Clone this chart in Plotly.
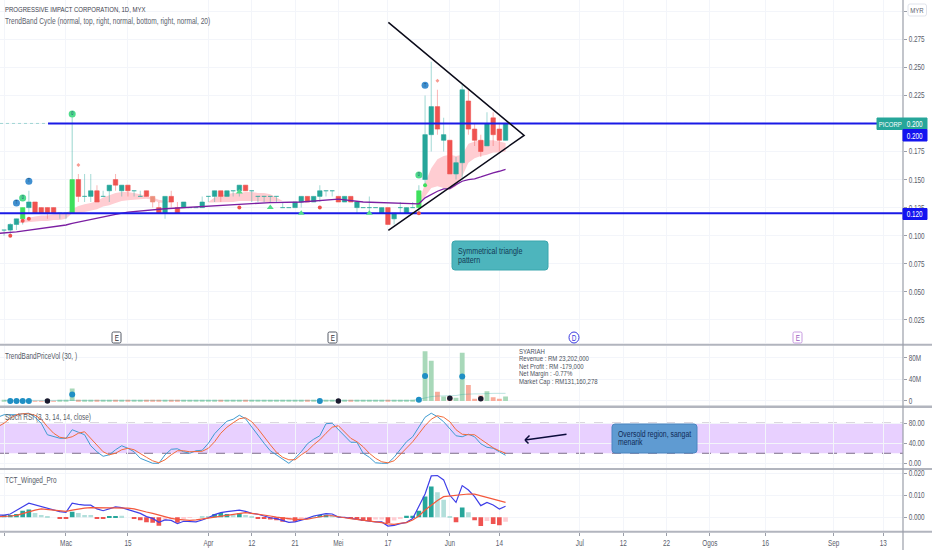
import plotly.graph_objects as go

FONT = "Liberation Sans, sans-serif"
TEAL, RED, GREEN, SALMON = "#26a69a", "#ef5350", "#3ee05c", "#ec8f7c"

# ---------- bar numbering / time axis ----------
tick_index = [-10, 0, 10, 23, 30, 37, 44, 52, 62, 70, 83, 90, 97, 104, 113, 124, 132]
tick_labels = ["15", "Mac", "15", "Apr", "12", "21", "Mei", "17", "Jun", "14", "Jul", "12", "22", "Ogos", "16", "Sep", "13"]

# ---------- candles (bar -10 .. 71), ten per row ----------
candle_index = list(range(-10, 72))
opens = [.105,.105,.110,.115,.125,.130,.125,.125,.125,.120,
         .120,.120,.150,.135,.135,.140,.135,.140,.150,.140,
         .145,.140,.135,.140,.135,.125,.120,.135,.125,.125,
         .125,.125,.125,.135,.135,.140,.135,.140,.140,.145,
         .140,.135,.135,.135,.135,.125,.125,.125,.130,.135,
         .130,.135,.140,.140,.135,.130,.135,.125,.125,.125,
         .125,.120,.125,.115,.125,.120,.125,.125,.150,.190,
         .215,.185,.185,.155,.165,.220,.195,.185,.180,.205,.195,.185]
highs = [.105,.111,.115,.125,.140,.130,.125,.125,.125,.120,
         .120,.210,.155,.155,.155,.145,.140,.145,.155,.145,
         .145,.140,.140,.140,.135,.130,.135,.140,.130,.130,
         .125,.125,.135,.135,.140,.140,.140,.140,.145,.145,
         .140,.135,.135,.135,.135,.130,.125,.130,.135,.135,
         .135,.145,.140,.140,.135,.135,.135,.130,.125,.135,
         .125,.125,.125,.120,.130,.125,.130,.145,.225,.255,
         .230,.205,.185,.170,.235,.230,.200,.190,.210,.210,.200,.200]
lows = [.100,.100,.105,.110,.120,.120,.120,.115,.120,.115,
        .115,.120,.130,.130,.130,.130,.135,.130,.140,.135,
        .135,.135,.135,.135,.125,.120,.115,.125,.120,.125,
        .125,.125,.125,.130,.130,.130,.135,.135,.135,.140,
        .130,.130,.130,.130,.130,.125,.125,.125,.125,.130,
        .130,.130,.135,.135,.130,.130,.130,.120,.125,.120,
        .125,.120,.110,.110,.120,.120,.125,.120,.145,.175,
        .190,.175,.155,.150,.150,.190,.180,.170,.180,.180,.175,.185]
closes = [.105,.110,.115,.125,.130,.120,.120,.120,.120,.120,
          .120,.150,.135,.135,.140,.130,.135,.145,.145,.145,
          .140,.140,.135,.135,.130,.120,.135,.130,.120,.130,
          .125,.125,.130,.135,.140,.135,.140,.140,.145,.140,
          .140,.135,.135,.135,.135,.125,.125,.130,.135,.130,
          .135,.140,.140,.140,.130,.135,.130,.130,.125,.125,
          .125,.125,.110,.120,.125,.125,.125,.140,.190,.215,
          .195,.190,.155,.165,.230,.195,.185,.175,.200,.190,.185,.200]
bright_green_bars = [-7, 1, 57]
salmon_bars = [14]

# ---------- trend band ----------
band_a_index = [-8,-6,-5,-4,-3,-2,-1,0,1,2,3,4,5,6,7,8,9,10,11,12,13,14,15,16,17]
band_a_top = [.112,.116,.117,.118,.118,.119,.119,.120,.1235,.1265,.128,.129,.131,.134,.136,.138,.139,.139,.138,.137,.135,.134,.132,.131,.130]
band_a_bot = [.111,.112,.113,.113,.113,.114,.114,.115,.120,.120,.121,.122,.1235,.126,.127,.129,.131,.1315,.132,.133,.133,.132,.1295,.129,.130]
band_b_index = [23,24,25,26,27,28,29,30,31,32,33,34,35]
band_b_top = [.130,.134,.136,.137,.138,.138,.139,.139,.138,.138,.137,.134,.131]
band_b_bot = [.1295,.1295,.130,.130,.130,.131,.131,.131,.131,.130,.130,.131,.131]
band_c_index = [57,58,59,60,61,62,63,64,65,66,67,68,69,70,71]
band_c_top = [.1292,.147,.160,.168,.171,.172,.171,.172,.182,.184,.185,.185,.185,.184,.1825]
band_c_bot = [.1292,.135,.1425,.144,.1425,.141,.144,.153,.165,.169,.171,.172,.174,.174,.175]

ma_index = [-11,-8,0,1,8,10,16,24,33,38,44,48,52,57,58,59,60,61,62,63,64,65,66,67,68,69,70,71]
ma_value = [.102,.1034,.1095,.111,.119,.121,.124,.1265,.1295,.130,.1325,.130,.129,.1284,.1337,.1367,.1396,.1417,.142,.1455,.1485,.150,.1506,.1523,.1544,.156,.1574,.159]

# ---------- drawing tools on the price pane ----------
triangle_index = [52.07, 74, 52.07]
triangle_price = [.290, .1893, .1048]
resistance, support = 0.200, 0.120
last_price_index = [-10.66, 135.2]
resistance_index = [-2.9, 135.2]

# ---------- signal markers ----------
blue_mark_index, blue_mark_price = [-8, -6, 58], [.129, .1485, .234]
green_mark_index, green_mark_price = [-7, 1, 57], [.1336, .2085, .154]
red_dot_index, red_dot_price = [-9, -7, -6, 28, 41, 57], [.100, .1134, .115, .125, .125, .120]
red_small_index, red_small_price = [2, 60], [.163, .238]
green_small_index, green_small_price = [58], [.145]
green_tri_index, green_tri_price = [28, 33, 38, 49], [.139, .125, .120, .120]

# ---------- volume (millions), ten per row ----------
volume = [.5,.6,.8,1,1,.4,.3,.3,.3,.5,
          .5,23,1,1.5,2,2,1.5,1.5,1,1.5,
          1,1,1,1,.8,.6,1,.8,.5,.7,
          .5,.5,1,.8,1,.8,1,.8,.8,.6,
          .8,.7,.8,.6,.6,.8,.6,.8,1,.8,
          .8,1,1.5,1,1.5,2,2,1,1,1,
          1,1,1.5,1,1.5,2,2,3,91.6,74,
          17,8,9,6,89,29.5,4,10,18,7,4,8]
volume_ma = [1,1,1,1,1,1,1,1,1,1,
             1,1.5,1.5,1.5,1.5,1.5,1.5,1.5,1.5,1,
             1,1,1,1,1,1,1,1,1,1,
             1,1,1,1,1,1,1,1,1,1,
             1,1,1,1,1,1,1,1,1,1,
             1,1,1,1,1,1,1,1,1,1,
             1,1,1,1,1,1,1,3,6,8,
             9,9,9.5,10,12,13,13,13,14,14,14,14]
vol_blue_index, vol_blue_value = [-9,-8,-7,-6,1,41,57,58,64], [0,0,0,0,12,0,2,46,45]
vol_black_index, vol_black_value = [-3,44,62,67], [0,0,5,4]

# ---------- Stoch RSI (bar -11 .. 71) ----------
stoch_index = list(range(-11, 72))
stoch_k = [92,97,97,97,99,100,92,80,57,53,50,50,67,62,57,35,23,14,17,27,35,30,23,10,5,0,0,17,28,29,23,20,25,26,40,59,72,84,88,96,89,72,57,40,25,17,8,0,10,23,39,48,55,79,80,67,53,42,42,20,12,1,0,0,12,27,43,53,72,92,100,93,83,70,55,53,58,53,39,32,30,23,16]
stoch_d = [73,80,90,97,99,99,96,88,73,60,52,50,53,60,63,50,37,23,17,20,27,30,27,19,12,5,1,7,17,25,25,23,23,24,30,43,60,72,81,89,91,83,69,52,37,22,12,7,7,17,25,37,47,60,72,75,63,50,43,33,20,10,3,1,5,17,30,43,59,75,88,95,92,83,67,58,57,57,48,39,31,25,20]
stoch_band = [20, 80]

# ---------- TCT_Winged_Pro (thousandths) ----------
hist_index = list(range(-10, 72))
hist_value = [1,1,1.5,3,3.6,2,1,.3,0,-.7,
              -.8,2.5,2,1,1,-.5,-.8,.2,.5,.7,
              0,-.6,-1.3,-2.2,-2.5,-3.8,-1.3,-.7,-2.5,-.5,
              -.3,0,.3,.6,1.5,2,1.5,1,1.8,1,
              .5,-.5,-.8,-1,-1.3,-2,-1.3,-2,-.7,-.5,
              .5,1,1.2,1,.2,-.3,-.5,-.7,-1.7,-1.7,
              -1,-1,-2.6,-1.5,-.8,.7,.7,3,9.5,14,
              11.4,8,.6,-2.2,4.5,2.3,-1.3,-4,-1.7,-3,-3.6,-2]
hist_pale = [-5,-4,-3,2,3,4,9,16,17,19,20,22,23,27,29,30,36,38,39,40,43,44,45,50,51,53,54,60,61,62,65,68,71]
tct_index = list(range(-11, 72))
tct_blue = [1,1,1.5,3,4.8,6.4,5.6,4.8,4,3.2,2.6,2.3,6.4,5.9,5.5,5.5,3.8,3,4,4.7,4.4,3.6,2.6,1.8,.3,-.5,-2.3,-1.2,-1.4,-2.9,-1.8,-2,-2.1,-1.2,-.2,1.2,2.1,2.6,3,3.3,2.7,1.8,1.4,.6,-.2,-.6,-1.4,-2.3,-2.1,-1.4,-.5,.6,1.2,1.7,1.5,.1,0,-.5,-.9,-1.4,-1.8,-2.1,-2.1,-4,-3.7,-2.9,-2.3,-.6,4.8,10.6,18.8,19,17,10,6.8,14.4,12.4,9.4,5.3,6.8,5.6,3.8,5]
tct_red = [.3,.3,.6,.9,1.8,2.6,3.3,3.8,3.6,3.3,3,2.7,3.3,3.8,4.2,4.4,4.4,4.2,4.2,4.4,4.5,4.2,3.8,3,2.4,1.8,1,.3,-.5,-.9,-1.2,-1.4,-1.2,-.8,-.3,.3,.7,1,1.5,1.8,2.1,1.8,1.5,1,.6,.1,-.3,-.8,-.9,-.9,-.8,-.3,.3,.7,.7,.1,-.2,-.6,-.9,-1.4,-1.8,-2.1,-2.4,-3,-3.2,-2.7,-2.4,-1.2,.6,3.3,5.6,7.6,9.4,9.7,9.8,10.3,10.6,10.5,9.8,9.1,8.5,7.7,6.8]

# ---------- axis ticks ----------
price_ticks = [.300,.275,.250,.225,.200,.175,.150,.125,.100,.075,.050,.025]
price_tick_text = ["", "0.275","0.250","0.225","","0.175","0.150","0.125","0.100","0.075","0.050","0.025"]
volume_ticks, volume_tick_text = [0,40,80], ["0","40M","80M"]
stoch_ticks, stoch_tick_text = [0,40,80], ["0.00","40.00","80.00"]
tct_ticks, tct_tick_text = [0,10,20], ["0.000","0.010","0.020"]

# ---------- text ----------
title_text = "PROGRESSIVE IMPACT CORPORATION, 1D, MYX"
study_text = "TrendBand Cycle (normal, top, right, normal, bottom, right, normal, 20)"
pane_titles = ["TrendBandPriceVol (30, )", "Stoch RSI (3, 3, 14, 14, close)", "TCT_Winged_Pro"]
info_lines = ["SYARIAH", "Revenue : RM 23,202,000", "Net Profit : RM -179,000", "Net Margin : -0.77%", "Market Cap : RM131,160,278"]

# page geometry (pixels)
W, H, AXIS_X, PLOT_B = 932, 550, 903, 532
X_RANGE = [-10.66, 135.2]
px = lambda x: x / AXIS_X
py = lambda y: (PLOT_B - y) / PLOT_B
dom = lambda top, bottom: [py(bottom), py(top)]

fig = go.Figure()
hi_lo = [h - l for h, l in zip(highs, lows)]
def body_color(i, o, c):
    if i in bright_green_bars: return GREEN
    if i in salmon_bars: return SALMON
    return TEAL if c >= o else RED
def wick_color(i, o, c):
    if i in bright_green_bars: return "rgba(38,166,154,0.45)"
    return "rgba(38,166,154,0.4)" if c >= o else "rgba(239,83,80,0.4)"

# band on the base price axis so that it lies under the candles
for xs, top, bot in [(band_a_index, band_a_top, band_a_bot), (band_b_index, band_b_top, band_b_bot), (band_c_index, band_c_top, band_c_bot)]:
    fig.add_trace(go.Scatter(x=xs, y=bot, mode="lines", line=dict(width=0, color="#ffcdd2"), yaxis="y"))
    fig.add_trace(go.Scatter(x=xs, y=top, mode="lines", line=dict(width=0, color="#ffcdd2"), fill="tonexty", fillcolor="#ffcdd2", yaxis="y"))

fig.add_trace(go.Bar(x=candle_index, y=hi_lo, base=lows, width=0.17, yaxis="y5",
                     marker=dict(color=[wick_color(i, o, c) for i, o, c in zip(candle_index, opens, closes)], line_width=0)))
fig.add_trace(go.Bar(x=candle_index, y=[c - o for o, c in zip(opens, closes)], base=opens, width=0.72, yaxis="y5",
                     marker=dict(color=[body_color(i, o, c) for i, o, c in zip(candle_index, opens, closes)],
                                 line=dict(width=0.6, color=[body_color(i, o, c) for i, o, c in zip(candle_index, opens, closes)]))))

fig.add_trace(go.Scatter(x=ma_index, y=ma_value, mode="lines", line=dict(color="#7b1fa2", width=1.3), yaxis="y5"))
fig.add_trace(go.Scatter(x=last_price_index, y=[resistance]*2, mode="lines", line=dict(color="rgba(38,166,154,0.4)", width=1, dash="dot"), yaxis="y5"))
fig.add_trace(go.Scatter(x=resistance_index, y=[resistance]*2, mode="lines", line=dict(color="#1a1ae6", width=2), yaxis="y5"))
fig.add_trace(go.Scatter(x=last_price_index, y=[support]*2, mode="lines", line=dict(color="#1a1ae6", width=2), yaxis="y5"))
fig.add_trace(go.Scatter(x=triangle_index, y=triangle_price, mode="lines", line=dict(color="#0b0b1a", width=1.5), yaxis="y5"))

for xs, ys, sym, col, size, txt in [
    (blue_mark_index, blue_mark_price, "circle", "#3f8fd0", 7, "T"),
    (green_mark_index, green_mark_price, "circle", "#4fdc8c", 7, "0"),
    (red_dot_index, red_dot_price, "circle", "#f0524f", 4, None),
    (red_small_index, red_small_price, "diamond", "#f79a90", 3, None),
    (green_small_index, green_small_price, "circle", "#3ee05c", 4, None),
    (green_tri_index, green_tri_price, "triangle-up", "#4fdc8c", 6, None),
]:
    fig.add_trace(go.Scatter(x=xs, y=ys, mode="markers+text" if txt else "markers", yaxis="y5",
                             marker=dict(symbol=sym, color=col, size=size, line_width=0),
                             text=[txt]*len(xs) if txt else None, textposition="middle center",
                             textfont=dict(size=5, color="#1d4f7a", family=FONT)))

# volume pane
fig.add_trace(go.Bar(x=candle_index, y=volume, width=0.78, yaxis="y2",
                     marker=dict(color=["#a8d8b9" if c >= o else "#f9ab9a" for o, c in zip(opens, closes)], line_width=0)))
fig.add_trace(go.Scatter(x=candle_index, y=volume_ma, mode="lines", line=dict(color="rgba(38,166,154,0.3)", width=1), yaxis="y2"))
fig.add_trace(go.Scatter(x=vol_blue_index, y=vol_blue_value, mode="markers", marker=dict(color="#1f8fc4", size=6), yaxis="y2"))
fig.add_trace(go.Scatter(x=vol_black_index, y=vol_black_value, mode="markers", marker=dict(color="#1a1a2e", size=5.5), yaxis="y2"))

# stoch pane
fig.add_trace(go.Scatter(x=stoch_index, y=stoch_k, mode="lines", line=dict(color="#3f9bd0", width=1), yaxis="y3"))
fig.add_trace(go.Scatter(x=stoch_index, y=stoch_d, mode="lines", line=dict(color="#f26b3a", width=1), yaxis="y3"))

# TCT pane
fig.add_trace(go.Bar(x=hist_index, y=hist_value, width=0.75, yaxis="y4",
                     marker=dict(color=[("#b2dfdb" if i in hist_pale else TEAL) if v >= 0 else ("#ffcdd2" if i in hist_pale else RED)
                                        for i, v in zip(hist_index, hist_value)], line_width=0)))
fig.add_trace(go.Scatter(x=tct_index, y=tct_blue, mode="lines", line=dict(color="#3f3fe8", width=1.2), yaxis="y4"))
fig.add_trace(go.Scatter(x=tct_index, y=tct_red, mode="lines", line=dict(color="#f4583c", width=1.2), yaxis="y4"))

# ---------- shapes ----------
SEP = "#b2b5be"
shapes = []
shapes.append(dict(type="rect", xref="x", x0=X_RANGE[0], x1=X_RANGE[1], yref="y3", y0=stoch_band[0], y1=stoch_band[1], fillcolor="#e8d0ff", line_width=0, layer="below"))
for v in stoch_band:
    shapes.append(dict(type="line", xref="x", x0=X_RANGE[0], x1=X_RANGE[1], yref="y3", y0=v, y1=v, line=dict(color="#7e6f8a", width=1, dash="dash"), layer="below"))
for yy, w in [(344.7, 2), (406.7, 2.5), (469, 2), (531.7, 2)]:
    shapes.append(dict(type="line", xref="paper", yref="paper", x0=0, x1=W/AXIS_X, y0=py(yy), y1=py(yy), line=dict(color=SEP, width=w)))
shapes.append(dict(type="line", xref="paper", yref="paper", x0=1, x1=1, y0=py(0), y1=py(550), line=dict(color="#9a9ea8", width=1.2)))

def rrect(x0, y0, x1, y1, r, fill, border, bw=1):
    xa, xb, ya, yb = px(x0), px(x1), py(y0), py(y1)
    rx, ry = r / AXIS_X, r / PLOT_B
    path = (f"M{xa+rx},{ya} L{xb-rx},{ya} Q{xb},{ya} {xb},{ya-ry} L{xb},{yb+ry} Q{xb},{yb} {xb-rx},{yb} "
            f"L{xa+rx},{yb} Q{xa},{yb} {xa},{yb+ry} L{xa},{ya-ry} Q{xa},{ya} {xa+rx},{ya} Z")
    return dict(type="path", xref="paper", yref="paper", path=path, fillcolor=fill, line=dict(color=border, width=bw))

shapes += [
    rrect(452, 241, 548, 270, 3, "#4db5bd", "#3aa6ad"),
    rrect(612, 424, 697, 453, 3, "#5f9bd2", "#4a86c0"),
    rrect(877, 118, 903, 129.5, 0, TEAL, TEAL),
    rrect(903, 118, 927, 129.5, 0, TEAL, TEAL),
    rrect(903, 129.5, 927, 141, 0, "#1414f0", "#1414f0"),
    rrect(903, 208.5, 927, 219.5, 0, "#1414f0", "#1414f0"),
    rrect(908, 4, 926.5, 16, 2, "white", "#e0e3eb"),
    rrect(112, 332, 121, 343, 1.5, "white", "#555a66"),
    rrect(328, 332, 337, 343, 1.5, "white", "#555a66"),
    rrect(793, 332, 802, 343, 1.5, "white", "#c79be0"),
    dict(type="circle", xref="paper", yref="paper", x0=px(569), x1=px(579), y0=py(343), y1=py(332), fillcolor="white", line=dict(color="#3a3ae0", width=1)),
]

# ---------- text annotations ----------
def label(x, y, text, size=8.5, color="#4c525e", anchor="left"):
    return dict(x=px(x), y=py(y), xref="paper", yref="paper", text=text, showarrow=False, xanchor=anchor, yanchor="middle",
                align=anchor, font=dict(family=FONT, size=size, color=color), borderpad=0)

ann = [label(4, 9.5, title_text, 8, "#3e434f"), label(4, 21.5, study_text, 8.8, "#5a606c")]
ann += [label(4, y, t, 8.6, "#555a66") for y, t in zip([356, 417, 480], pane_titles)]
ann += [label(518, y, t, 8, "#4c525e") for y, t in zip([351, 358.5, 366, 374, 381], info_lines)]
ann += [label(457, 251, "Symmetrical triangle", 9.5, "#123a55"), label(457, 259, "pattern", 9.5, "#123a55"),
        label(617, 433.5, "Oversold region, sangat", 9.2, "#0f2a55"), label(617, 441.5, "menarik", 9.2, "#0f2a55"),
        label(890, 124, "PICORP", 8, "white", "center"), label(915, 124, "0.200", 8.5, "white", "center"),
        label(915, 135.5, "0.200", 8.5, "white", "center"), label(915, 214, "0.120", 8.5, "white", "center"),
        label(917, 10, "MYR", 8, "#5a606c", "center"),
        label(116.5, 337.5, "E", 8.5, "#333", "center"), label(332.5, 337.5, "E", 8.5, "#333", "center"),
        label(574, 337.5, "D", 8.5, "#3a3ae0", "center"), label(797.5, 337.5, "E", 8.5, "#9a5cc0", "center")]
for ax, ay in [(43, -6), (6, -6), (5, 5)]:
    ann.append(dict(x=px(525), y=py(440), xref="paper", yref="paper", ax=ax, ay=ay, text="", showarrow=True,
                    arrowhead=0, arrowwidth=1.5, arrowcolor="#0b0b3b"))

GRID = "#f3f5fa"
TICK_FONT = dict(family=FONT, size=8.5, color="#5a606c")
def yax(domain, rng, ticks, text, **kw):
    return dict(domain=domain, range=rng, side="right", anchor="x", tickvals=ticks, ticktext=text, showgrid=True, gridcolor=GRID, gridwidth=1,
                zeroline=False, ticks="outside", ticklen=3, tickcolor="#9a9ea8", tickfont=TICK_FONT, fixedrange=True, **kw)

PRICE_RANGE = [.0048, .310]
fig.update_layout(
    width=W, height=H, margin=dict(l=0, r=W-AXIS_X, t=0, b=H-PLOT_B, autoexpand=False),
    paper_bgcolor="white", plot_bgcolor="white", showlegend=False, barmode="overlay", hovermode=False,
    xaxis=dict(domain=[0, 1], range=X_RANGE, anchor="y4", tickvals=tick_index, ticktext=tick_labels, showgrid=True, gridcolor=GRID,
               zeroline=False, ticks="outside", ticklen=3, tickcolor="#9a9ea8", tickfont=TICK_FONT, fixedrange=True),
    yaxis=yax(dom(0, 342.5), PRICE_RANGE, price_ticks, price_tick_text),
    yaxis2=yax(dom(345.7, 405.7), [-8.8, 102], volume_ticks, volume_tick_text),
    yaxis3=yax(dom(407.7, 468), [-9.4, 111], stoch_ticks, stoch_tick_text),
    yaxis4=yax(dom(470, 531.5), [-6.45, 21.5], tct_ticks, tct_tick_text),
    yaxis5=dict(overlaying="y", side="right", range=PRICE_RANGE, visible=False, fixedrange=True),
    shapes=shapes, annotations=ann,
)
# The reference's lettering is a horizontally condensed face; condense the real SVG text by the same factor.
CONDENSE = """
document.body.style.margin='0';
setTimeout(function(){
  document.querySelectorAll('svg text').forEach(function(t){
    var b=t.getBBox(), a=getComputedStyle(t).textAnchor;
    var ox = a==='middle' ? b.x+b.width/2 : (a==='end' ? b.x+b.width : b.x);
    var old=t.getAttribute('transform')||'';
    t.setAttribute('transform', old+' translate('+ox+',0) scale(0.75,1) translate('+(-ox)+',0)');
  });
}, 60);
"""
fig.write_html("out.html", config=dict(displayModeBar=False), post_script=CONDENSE)
